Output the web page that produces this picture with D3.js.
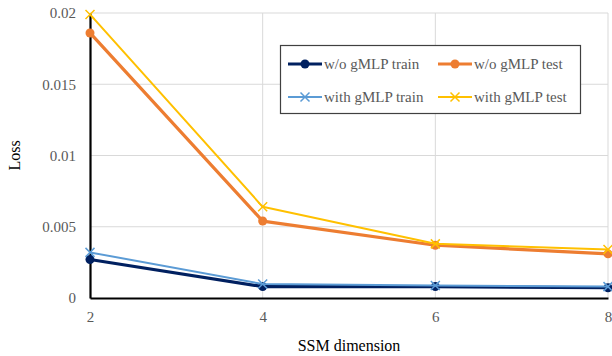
<!DOCTYPE html>
<html>
<head>
<meta charset="utf-8">
<script src="https://cdn.jsdelivr.net/npm/d3@7"></script>
<style>
  body { margin: 0; background: #fff; }
  svg, svg text { font-family: "Times New Roman", "Liberation Serif", "DejaVu Serif", serif; }
</style>
</head>
<body>
<svg id="chart"></svg>
<script>
var width = 612;
var height = 356;
var serif = "'Times New Roman', 'Liberation Serif', 'DejaVu Serif', serif";

// data
var dims = [2, 4, 6, 8];
var woTrain = [0.0027, 0.0008, 0.0008, 0.00072];
var woTest = [0.0186, 0.0054, 0.0037, 0.0031];
var withTrain = [0.0032, 0.00098, 0.00088, 0.0008];
var withTest = [0.0199, 0.0064, 0.0038, 0.0034];
var yTicks = [0, 0.005, 0.01, 0.015, 0.02];
var yTickLabels = ["0", "0.005", "0.01", "0.015", "0.02"];

var series = [
  { name: "w/o gMLP train", values: woTrain, color: "#002060", width: 3.2, marker: "circle" },
  { name: "w/o gMLP test", values: woTest, color: "#ED7D31", width: 3.2, marker: "circle" },
  { name: "with gMLP train", values: withTrain, color: "#5B9BD5", width: 2, marker: "x" },
  { name: "with gMLP test", values: withTest, color: "#FFC000", width: 2, marker: "x" }
];

var margin = { left: 90, right: 4, top: 13, bottom: 58 };

var svg = d3.select("#chart")
    .attr("width", width)
    .attr("height", height);

var x = d3.scaleLinear().domain([2, 8]).range([margin.left, width - margin.right]);
var y = d3.scaleLinear().domain([0, 0.02]).range([height - margin.bottom, margin.top]);

// grid
svg.append("g")
    .selectAll("line.h")
    .data(yTicks.slice(1))
    .enter().append("line")
    .attr("x1", x(2)).attr("x2", x(8))
    .attr("y1", d => y(d)).attr("y2", d => y(d))
    .attr("stroke", "#d9d9d9").attr("stroke-width", 1);

svg.append("g")
    .selectAll("line.v")
    .data(dims.slice(1))
    .enter().append("line")
    .attr("x1", d => x(d)).attr("x2", d => x(d))
    .attr("y1", y(0)).attr("y2", y(0.02))
    .attr("stroke", "#d9d9d9").attr("stroke-width", 1);

// axes
var yAxis = d3.axisLeft(y).tickValues(yTicks).tickFormat((d, i) => yTickLabels[i]).tickSize(0).tickPadding(14);
var gy = svg.append("g").attr("transform", "translate(" + x(2) + ",0)").call(yAxis);
gy.attr("font-family", serif);
gy.select(".domain").attr("stroke", "#000").attr("stroke-width", 2.2);
gy.selectAll("text").attr("fill", "#595959").style("font-size", "15px");

var xAxis = d3.axisBottom(x).tickValues(dims).tickFormat(d3.format("d")).tickSize(0).tickPadding(13);
var gx = svg.append("g").attr("transform", "translate(0," + y(0) + ")").call(xAxis);
gx.attr("font-family", serif);
gx.select(".domain").attr("stroke", "#000").attr("stroke-width", 2.2);
gx.selectAll("text").attr("fill", "#595959").style("font-size", "15px");

// axis titles
svg.append("text")
    .attr("transform", "translate(20," + ((y(0) + y(0.02)) / 2) + ") rotate(-90)")
    .attr("text-anchor", "middle")
    .style("font-size", "16px")
    .attr("fill", "#000")
    .text("Loss");

svg.append("text")
    .attr("x", (x(2) + x(8)) / 2)
    .attr("y", 351)
    .attr("text-anchor", "middle")
    .style("font-size", "16px")
    .attr("fill", "#000")
    .text("SSM dimension");

// lines
var line = d3.line().x((d, i) => x(dims[i])).y(d => y(d));

function drawMarker(g, type, color, cx, cy, r) {
  if (type === "circle") {
    g.append("circle").attr("cx", cx).attr("cy", cy).attr("r", r).attr("fill", color);
  } else {
    g.append("path")
      .attr("d", "M" + (cx - r) + "," + (cy - r) + "L" + (cx + r) + "," + (cy + r) +
                 "M" + (cx - r) + "," + (cy + r) + "L" + (cx + r) + "," + (cy - r))
      .attr("stroke", color).attr("stroke-width", 1.5).attr("fill", "none");
  }
}

series.forEach(function(s) {
  var g = svg.append("g");
  g.append("path")
    .datum(s.values)
    .attr("d", line)
    .attr("fill", "none")
    .attr("stroke", s.color)
    .attr("stroke-width", s.width)
    .attr("stroke-linejoin", "round");
  s.values.forEach(function(v, i) {
    drawMarker(g, s.marker, s.color, x(dims[i]), y(v), 4.5);
  });
});

// legend
var lg = svg.append("g");
lg.append("rect")
  .attr("x", 280.5).attr("y", 45.5).attr("width", 300).attr("height", 68)
  .attr("fill", "#fff").attr("stroke", "#404040").attr("stroke-width", 1.2);

series.forEach(function(s, i) {
  var col = i % 2, row = Math.floor(i / 2);
  var lx = col === 0 ? 288 : 438;
  var ly = row === 0 ? 64 : 97;
  lg.append("line")
    .attr("x1", lx).attr("x2", lx + 34)
    .attr("y1", ly).attr("y2", ly)
    .attr("stroke", s.color).attr("stroke-width", s.width);
  drawMarker(lg, s.marker, s.color, lx + 17, ly, 4.5);
  lg.append("text")
    .attr("x", lx + 36).attr("y", ly + 5)
    .style("font-size", "15px")
    .attr("fill", "#595959")
    .text(s.name);
});
</script>
</body>
</html>
